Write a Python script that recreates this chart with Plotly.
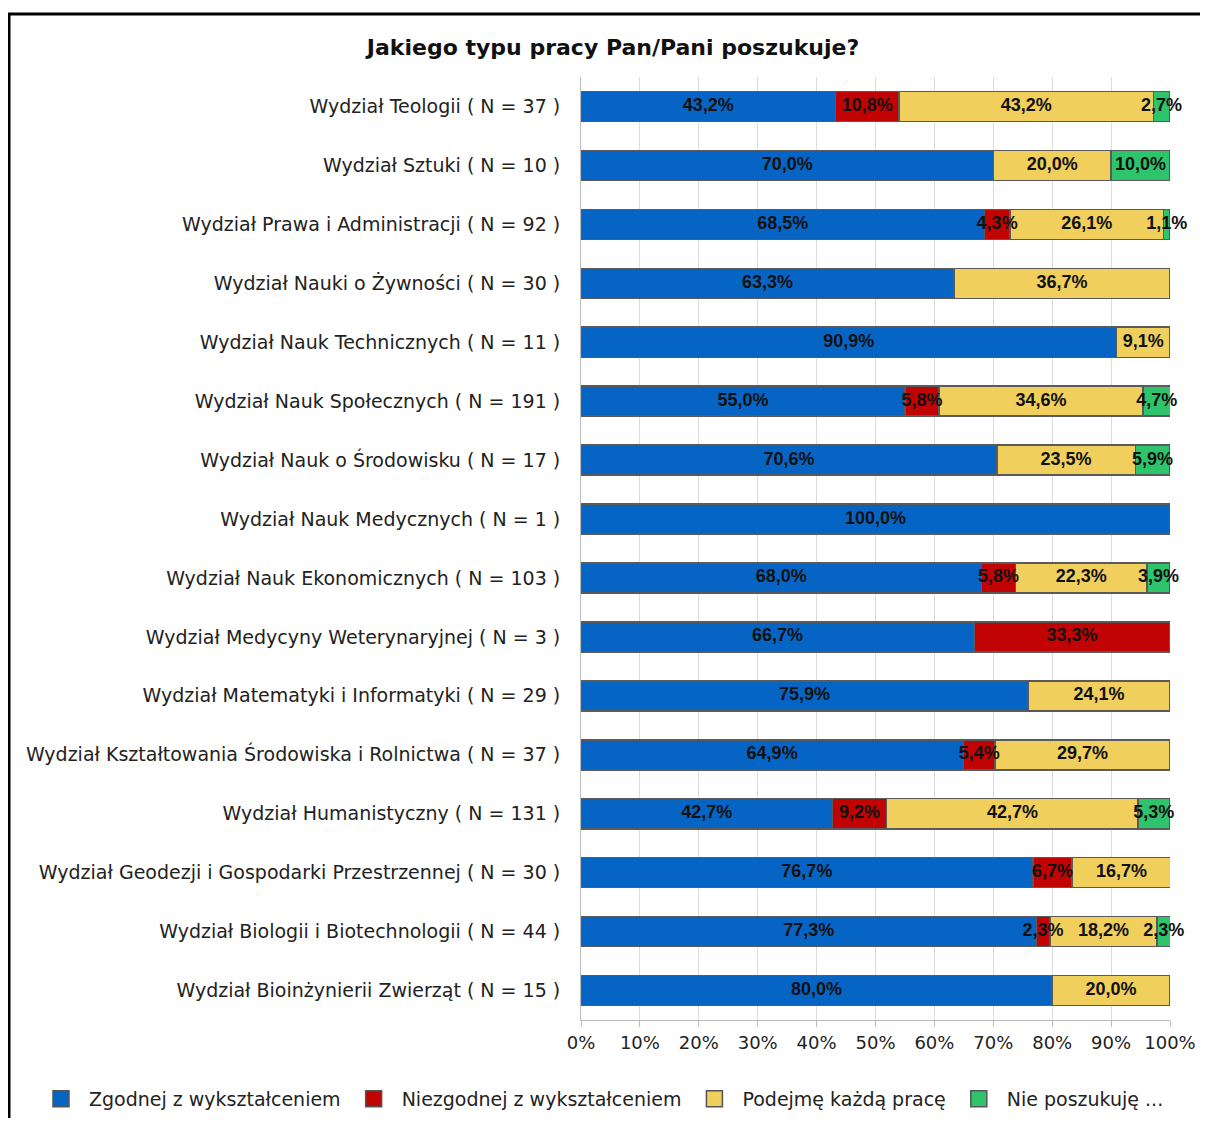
import plotly.graph_objects as go

categories = [
    "Wydział Teologii ( N = 37 )",
    "Wydział Sztuki ( N = 10 )",
    "Wydział Prawa i Administracji ( N = 92 )",
    "Wydział Nauki o Żywności ( N = 30 )",
    "Wydział Nauk Technicznych ( N = 11 )",
    "Wydział Nauk Społecznych ( N = 191 )",
    "Wydział Nauk o Środowisku ( N = 17 )",
    "Wydział Nauk Medycznych ( N = 1 )",
    "Wydział Nauk Ekonomicznych ( N = 103 )",
    "Wydział Medycyny Weterynaryjnej ( N = 3 )",
    "Wydział Matematyki i Informatyki ( N = 29 )",
    "Wydział Kształtowania Środowiska i Rolnictwa ( N = 37 )",
    "Wydział Humanistyczny ( N = 131 )",
    "Wydział Geodezji i Gospodarki Przestrzennej ( N = 30 )",
    "Wydział Biologii i Biotechnologii ( N = 44 )",
    "Wydział Bioinżynierii Zwierząt ( N = 15 )",
]

zgodnej = [43.2, 70.0, 68.5, 63.3, 90.9, 55.0, 70.6, 100.0, 68.0, 66.7, 75.9, 64.9, 42.7, 76.7, 77.3, 80.0]
niezgodnej = [10.8, None, 4.3, None, None, 5.8, None, None, 5.8, 33.3, None, 5.4, 9.2, 6.7, 2.3, None]
kazda = [43.2, 20.0, 26.1, 36.7, 9.1, 34.6, 23.5, None, 22.3, None, 24.1, 29.7, 42.7, 16.7, 18.2, 20.0]
nie = [2.7, 10.0, 1.1, None, None, 4.7, 5.9, None, 3.9, None, None, None, 5.3, None, 2.3, None]

series_names = ["Zgodnej z wykształceniem", "Niezgodnej z wykształceniem", "Podejmę każdą pracę", "Nie poszukuję ..."]
series_values = [zgodnej, niezgodnej, kazda, nie]
series_colors = ["#0665c4", "#c20303", "#f0cf5c", "#2ec46c"]

x_ticks = list(range(0, 101, 10))
x_ticklabels = [f"{v}%" for v in x_ticks]

OFF = 8  # page body margin
W, H = 1200, 1110
ML, MT = 581 - OFF, 77 - OFF
MR = W - (1170 - OFF)
MB = H - (1020 - OFF)
PW, PH = W - ML - MR, H - MT - MB

SANS = "DejaVu Sans, Verdana, sans-serif"
BOLDV = "Liberation Sans, Arial, sans-serif"

def fmt(v):
    return f"{v:.1f}".replace(".", ",") + "%"

def px_x(p):
    return (p - OFF - ML) / PW

def px_y(p):
    return (H - MB - (p - OFF)) / PH

fig = go.Figure()
for name, vals, col in zip(series_names, series_values, series_colors):
    fig.add_trace(go.Bar(
        y=categories, x=[0 if v is None else v for v in vals], name=name, orientation="h",
        marker=dict(color=col, line=dict(color="#5a5a5a", width=1.5)),
        showlegend=False, hoverinfo="x+y+name",
    ))

# value labels on top of all bars, centred in each stacked segment
lab_x, lab_y, lab_t = [], [], []
for i, cat in enumerate(categories):
    left = 0.0
    for vals in series_values:
        v = vals[i]
        if v is None:
            continue
        lab_x.append(left + v / 2)
        lab_y.append(cat)
        lab_t.append(fmt(v))
        left += v
fig.add_trace(go.Scatter(
    x=lab_x, y=lab_y, text=lab_t, mode="text", textposition="middle center",
    textfont=dict(family=BOLDV, size=18, color="#111111", weight="bold"),
    cliponaxis=False, showlegend=False, hoverinfo="skip",
))

for name, col in zip(series_names, series_colors):
    fig.add_trace(go.Scatter(
        x=[None], y=[None], mode="markers", name=name,
        marker=dict(symbol="square", size=16, color=col, line=dict(color="#555555", width=1.5)),
        showlegend=True, hoverinfo="skip",
    ))

fig.update_layout(
    width=W, height=H,
    barmode="stack", bargap=0.49,
    paper_bgcolor="white", plot_bgcolor="white",
    margin=dict(l=ML, r=MR, t=MT, b=MB, pad=0, autoexpand=False),
    font=dict(family=SANS, size=18, color="#222222"),
    title=dict(text="<b>Jakiego typu pracy Pan/Pani poszukuje?</b>",
               x=(613 - OFF) / W, xanchor="center", xref="container",
               y=1 - (47 - OFF) / H, yanchor="middle", yref="container",
               font=dict(size=22, color="#111111", family=SANS)),
    xaxis=dict(range=[0, 100], tickvals=x_ticks, ticktext=x_ticklabels,
               showgrid=True, gridcolor="#dddddd", gridwidth=1,
               showline=True, linecolor="#bbbbbb", linewidth=1,
               ticks="outside", ticklen=6, tickcolor="#bbbbbb",
               tickfont=dict(size=18, color="#222222", family=SANS), zeroline=False, fixedrange=True),
    yaxis=dict(range=[len(categories) - 0.5, -0.5], showline=True, linecolor="#bbbbbb",
               ticks="outside", ticklen=16, tickcolor="rgba(0,0,0,0)",
               tickfont=dict(size=19, color="#222222", family=SANS), showgrid=False, fixedrange=True),
    legend=dict(orientation="h", x=px_x(33), xanchor="left",
                y=px_y(1099), yanchor="middle",
                font=dict(size=19, color="#222222", family=SANS), traceorder="normal",
                itemsizing="trace", itemwidth=46, bgcolor="rgba(0,0,0,0)"),
    showlegend=True,
    shapes=[
        dict(type="line", xref="paper", yref="paper", x0=px_x(8), x1=px_x(1206), y0=px_y(14), y1=px_y(14),
             line=dict(color="black", width=3)),
        dict(type="line", xref="paper", yref="paper", x0=px_x(9), x1=px_x(9), y0=px_y(14), y1=px_y(1130),
             line=dict(color="black", width=3)),
        dict(type="line", xref="paper", yref="paper", x0=px_x(1205), x1=px_x(1205), y0=px_y(14), y1=px_y(1130),
             line=dict(color="black", width=3)),
    ],
)

fig.write_html("out.html")
